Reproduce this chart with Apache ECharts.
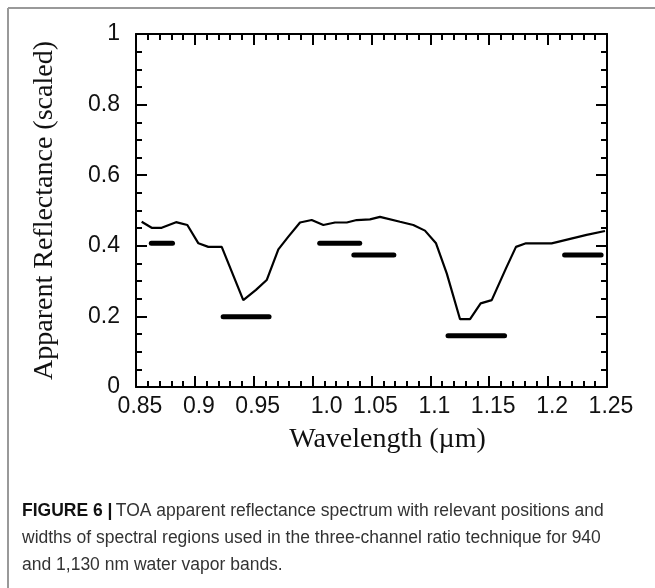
<!DOCTYPE html>
<html>
<head>
<meta charset="utf-8">
<script src="https://cdn.jsdelivr.net/npm/echarts@6/dist/echarts.min.js"></script>
<style>
  html, body { margin: 0; padding: 0; background: #fff; }
  #chart { width: 655px; height: 588px; }
</style>
</head>
<body>
<div id="chart"></div>
<script>
// TOA apparent reflectance spectrum (wavelength in µm, reflectance scaled)
const wavelength = [0.8548, 0.8633, 0.8718, 0.884, 0.8936, 0.903, 0.9114, 0.9228, 0.9411, 0.9519,
  0.961, 0.9709, 0.9794, 0.9893, 0.9992, 1.0091, 1.019, 1.029, 1.0374, 1.0487, 1.0572, 1.0742,
  1.0855, 1.0954, 1.1048, 1.1139, 1.1252, 1.1337, 1.1427, 1.1521, 1.1642, 1.1727, 1.1812, 1.203,
  1.2327, 1.2483];
const reflectance = [0.468, 0.451, 0.451, 0.467, 0.459, 0.407, 0.397, 0.397, 0.246, 0.275,
  0.303, 0.390, 0.426, 0.466, 0.473, 0.459, 0.466, 0.466, 0.473, 0.475, 0.482, 0.468,
  0.459, 0.443, 0.407, 0.322, 0.192, 0.192, 0.237, 0.246, 0.336, 0.397, 0.407, 0.407,
  0.431, 0.442];

// Spectral channels used in the three-channel ratio technique: [start, end] and level
const bandStart = [0.863, 0.924, 1.006, 1.035, 1.115, 1.214];
const bandEnd   = [0.881, 0.963, 1.040, 1.069, 1.163, 1.245];
const bandLevel = [0.407, 0.199, 0.407, 0.374, 0.145, 0.374];

const xTickLabels = ['0.85', '0.9', '0.95', '1.0', '1.05', '1.1', '1.15', '1.2', '1.25'];
const yTickLabels = ['0', '0.2', '0.4', '0.6', '0.8', '1'];

const X_MIN = 0.85, X_MAX = 1.25, X_STEP = 0.05;
const Y_MIN = 0, Y_MAX = 1, Y_STEP = 0.2;

const chart = echarts.init(document.getElementById('chart'), null, { renderer: 'canvas' });

const tickFont = 'Liberation Sans, Arial, sans-serif';
const serifFont = 'Liberation Serif, Times New Roman, serif';
const caption = 'Liberation Sans, Arial, sans-serif';

const axisLineStyle = { color: '#000', width: 2 };

function xLabel(v) {
  const i = Math.round((v - X_MIN) / X_STEP);
  const t = xTickLabels[i];
  if (t === undefined) return '';
  return t === '1.0' ? '{w|' + t + '}' : '{n|' + t + '}';
}
function yLabel(v) {
  const i = Math.round((v - Y_MIN) / Y_STEP);
  return yTickLabels[i] !== undefined ? yTickLabels[i] : '';
}

const baseX = {
  type: 'value', min: X_MIN, max: X_MAX, interval: X_STEP,
  axisLine: { show: true, onZero: false, lineStyle: axisLineStyle },
  axisTick: { show: true, inside: true, length: 11, lineStyle: { color: '#000', width: 2 } },
  minorTick: { show: true, splitNumber: 5, length: 6, lineStyle: { color: '#000', width: 2 } },
  splitLine: { show: false }
};
const baseY = {
  type: 'value', min: Y_MIN, max: Y_MAX, interval: Y_STEP,
  axisLine: { show: true, onZero: false, lineStyle: axisLineStyle },
  axisTick: { show: true, inside: true, length: 11, lineStyle: { color: '#000', width: 2 } },
  minorTick: { show: true, splitNumber: 4, length: 6, lineStyle: { color: '#000', width: 2 } },
  splitLine: { show: false }
};

const bandSeries = bandStart.map((s, i) => ({
  type: 'line',
  xAxisIndex: 0, yAxisIndex: 0,
  data: [[s, bandLevel[i]], [bandEnd[i], bandLevel[i]]],
  showSymbol: false,
  silent: true,
  lineStyle: { color: '#000', width: 5, cap: 'round' },
  z: 3
}));

const option = {
  animation: false,
  backgroundColor: '#fff',
  grid: { left: 136, top: 34, right: 48, bottom: 201, containLabel: false },
  xAxis: [
    Object.assign({}, baseX, {
      position: 'bottom',
      name: 'Wavelength (µm)',
      nameLocation: 'middle',
      nameGap: 39,
      nameTextStyle: { fontFamily: serifFont, fontSize: 28, color: '#111', padding: [0, 0, 0, 32] },
      axisLabel: {
        show: true, margin: 8, formatter: xLabel,
        rich: {
          n: { fontFamily: tickFont, fontSize: 23, color: '#111', padding: [0, 0, 0, 8] },
          w: { fontFamily: tickFont, fontSize: 23, color: '#111', padding: [0, 0, 0, 28] }
        }
      }
    }),
    Object.assign({}, baseX, { position: 'top', axisLabel: { show: false } })
  ],
  yAxis: [
    Object.assign({}, baseY, {
      position: 'left',
      name: 'Apparent Reflectance (scaled)',
      nameLocation: 'middle',
      nameGap: 77,
      nameTextStyle: { fontFamily: serifFont, fontSize: 28, color: '#111' },
      axisLabel: { show: true, margin: 16, formatter: yLabel, fontFamily: tickFont, fontSize: 23, color: '#111' }
    }),
    Object.assign({}, baseY, { position: 'right', axisLabel: { show: false } })
  ],
  series: [
    {
      type: 'line',
      xAxisIndex: 0, yAxisIndex: 0,
      data: wavelength.map((w, i) => [w, reflectance[i]]),
      showSymbol: false,
      silent: true,
      lineStyle: { color: '#000', width: 2.2 },
      z: 4
    }
  ].concat(bandSeries),
  graphic: [
    { type: 'line', shape: { x1: 8, y1: 8, x2: 655, y2: 8 }, style: { stroke: '#999', lineWidth: 2 } },
    { type: 'line', shape: { x1: 8, y1: 8, x2: 8, y2: 588 }, style: { stroke: '#999', lineWidth: 2 } },
    {
      type: 'text', left: 22, top: 502,
      style: {
        text: '{b|FIGURE 6 |} {r|TOA apparent reflectance spectrum with relevant positions and}',
        rich: {
          b: { fontFamily: caption, fontSize: 17.5, fontWeight: 'bold', fill: '#111' },
          r: { fontFamily: caption, fontSize: 17.5, fill: '#333' }
        }
      }
    },
    {
      type: 'text', left: 22, top: 529,
      style: {
        text: 'widths of spectral regions used in the three-channel ratio technique for 940',
        fontFamily: caption, fontSize: 17.5, fill: '#333'
      }
    },
    {
      type: 'text', left: 22, top: 556,
      style: {
        text: 'and 1,130 nm water vapor bands.',
        fontFamily: caption, fontSize: 17.5, fill: '#333'
      }
    }
  ]
};

chart.setOption(option);
</script>
</body>
</html>
